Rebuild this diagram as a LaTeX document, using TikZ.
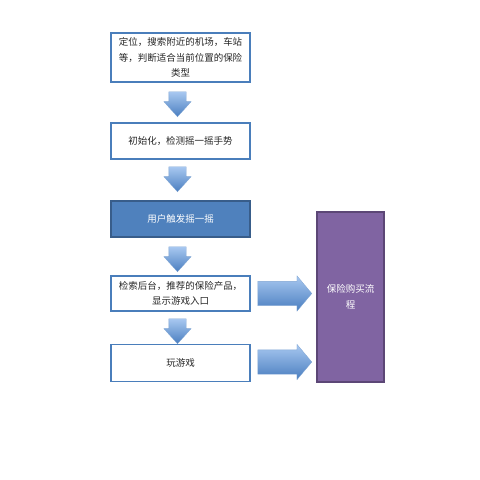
\documentclass[tikz,border=0pt]{standalone}
\usepackage{fontspec}
\newfontfamily\cjk{Noto Sans CJK SC}
\usetikzlibrary{shapes.arrows}
\definecolor{boxline}{HTML}{4A7EBB}
\definecolor{boxfill}{HTML}{4F81BD}
\definecolor{boxdark}{HTML}{385D8A}
\definecolor{buyfill}{HTML}{8064A2}
\definecolor{buyline}{HTML}{5C4776}
\definecolor{arrowlight}{HTML}{A8C8F0}
\definecolor{arrowdark}{HTML}{4A7EC0}

\begin{document}
\begin{tikzpicture}[x=1pt,y=-1pt,
	stepbox/.style={draw=boxline,line width=1.1pt,fill=white,minimum width=139pt,
		inner sep=2pt,align=center,text=black!85,
		font=\cjk\fontsize{9.5}{15.5}\selectfont},
	active/.style={stepbox,fill=boxfill,draw=boxdark,text=white},
	buybox/.style={draw=buyline,line width=1.1pt,fill=buyfill,minimum width=67pt,
		minimum height=170pt,align=center,text=white,
		font=\cjk\fontsize{9.5}{15.5}\selectfont},
	downarrow/.style={single arrow,shape border rotate=270,inner xsep=8.5pt,
		inner ysep=0pt,minimum height=25pt,single arrow head extend=5pt,
		single arrow tip angle=84,top color=arrowlight,bottom color=arrowdark,
		draw=arrowdark!70,line width=0.3pt,anchor=tip},
	rightarrow/.style={single arrow,inner ysep=12pt,inner xsep=0pt,
		minimum height=54pt,single arrow head extend=5.5pt,
		single arrow tip angle=100,top color=arrowlight,bottom color=arrowdark,
		draw=arrowdark!70,line width=0.3pt,anchor=tip}]
	\useasboundingbox (0,0) rectangle (480,480);
	% Steps
	\node[stepbox,minimum height=49pt] (locate) at (180.5,57.5)
		{定位，搜索附近的机场，车站\\等，判断适合当前位置的保险\\类型};
	\node[stepbox,minimum height=36pt] (init) at (180.5,141) {初始化，检测摇一摇手势};
	\node[active,minimum height=36pt] (shake) at (180.5,219) {用户触发摇一摇};
	\node[stepbox,minimum height=35pt] (search) at (180.5,293.5)
		{检索后台，推荐的保险产品，\\显示游戏入口};
	\node[stepbox,minimum height=37pt] (play) at (180.5,363) {玩游戏};
	% Purchase
	\node[buybox] (buy) at (350.5,297) {保险购买流\\程};
	% Arrows (placed by their tips)
	\node[downarrow] (a1) at (177.5,117) {};
	\node[downarrow] (a2) at (177.5,192) {};
	\node[downarrow] (a3) at (177.5,272) {};
	\node[downarrow] (a4) at (177.5,344) {};
	\node[rightarrow] (r1) at (312,293.5) {};
	\node[rightarrow] (r2) at (312,362) {};
\end{tikzpicture}
\end{document}
